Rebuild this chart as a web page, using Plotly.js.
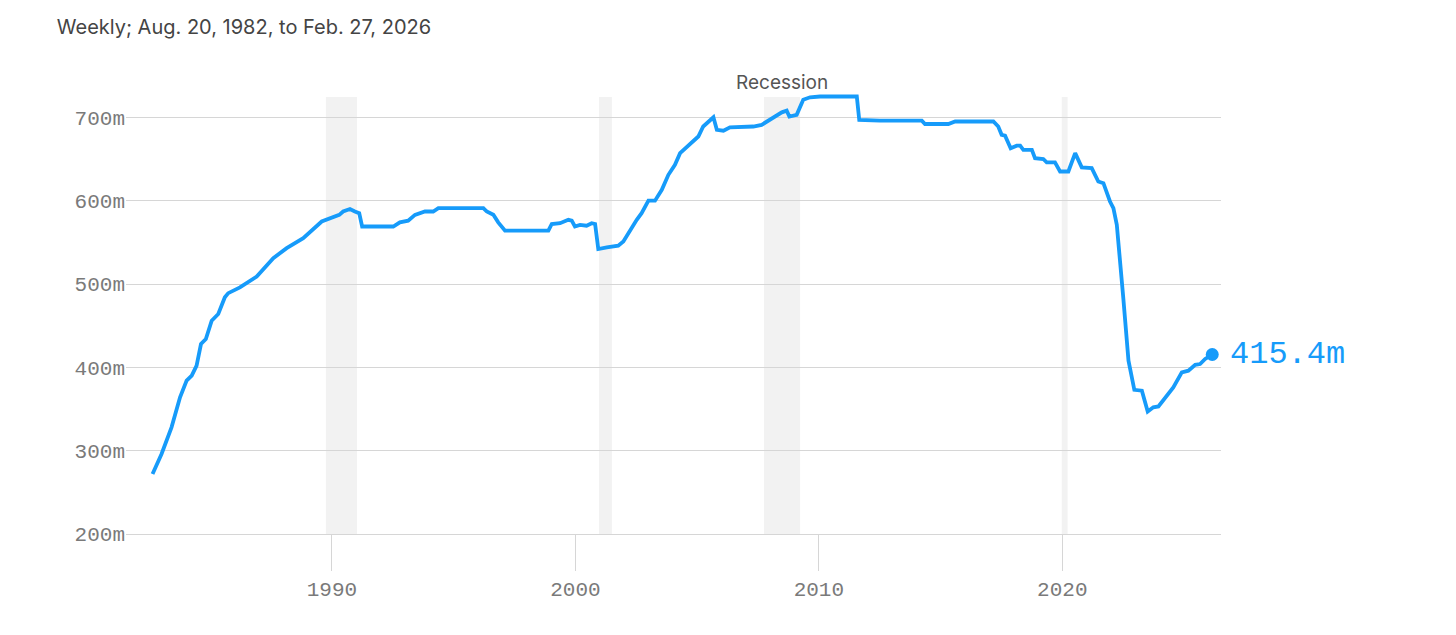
<!DOCTYPE html>
<html>
<head>
<meta charset="utf-8">
<script src="https://cdn.plot.ly/plotly-3.0.1.min.js"></script>
<style>
body{margin:0;background:#fff;}
#chart{width:1456px;height:635px;}
</style>
</head>
<body>
<div id="chart"></div>
<script>
// weekly values (decimal year, millions)
var years = [1982.63,1983.0,1983.41,1983.76,1984.03,1984.24,1984.44,1984.62,1984.82,1985.06,
  1985.33,1985.6,1985.74,1986.22,1986.91,1987.59,1988.14,1988.82,1989.58,1989.92,
  1990.3,1990.46,1990.74,1990.94,1991.12,1991.24,1992.52,1992.79,1993.13,1993.41,
  1993.82,1994.16,1994.37,1996.22,1996.36,1996.63,1996.83,1997.11,1998.89,1999.03,
  1999.37,1999.71,1999.85,1999.98,2000.19,2000.46,2000.67,2000.81,2000.94,2001.29,
  2001.76,2001.97,2002.17,2002.52,2002.72,2003.0,2003.27,2003.55,2003.82,2004.09,
  2004.3,2004.64,2004.84,2005.05,2005.25,2005.67,2005.81,2006.08,2006.35,2007.31,
  2007.65,2007.99,2008.48,2008.68,2008.79,2009.09,2009.36,2009.64,2010.05,2011.56,
  2011.66,2012.51,2012.65,2012.86,2013.06,2014.23,2014.36,2015.32,2015.6,2017.17,
  2017.37,2017.51,2017.65,2017.88,2018.13,2018.27,2018.4,2018.75,2018.88,2019.22,
  2019.36,2019.7,2019.91,2020.25,2020.53,2020.8,2021.21,2021.48,2021.69,2021.96,
  2022.1,2022.24,2022.51,2022.72,2022.96,2023.27,2023.51,2023.74,2023.95,2024.56,
  2024.91,2025.18,2025.46,2025.66,2025.87,2026.16];
var values = [272,296,328,364,384,390,402,428,434,456,
  464,484,489,496,509,531,543,555,575,579,
  583,587,590,587,585,569,569,574,576,583,
  587,587,591,591,587,583,574,564,564,572,
  573,577,576,569,571,570,573,572,542,544,
  546,551,561,577,585,600,600,613,631,643,
  657,666,671,677,689,700,685,684,688,689,
  691,697,706,708,701,703,721,724,725,725,
  697,696,696,695,696,696,692,692,695,695,
  689,679,678,663,666,666,661,661,651,650,
  646,646,635,635,657,640,639,623,621,599,
  591,571,482,408,373,372,347,352,353,376,
  394,396,403,404,410,415.4];

var recessionStart = [1989.75,2000.97,2007.75,2019.98];
var recessionEnd = [1991.03,2001.5,2009.23,2020.22];

var yTicks = [200,300,400,500,600,700];
var xTicks = [1990,2000,2010,2020];

var blue = '#169bfa';
var mono = 'Liberation Mono, DejaVu Sans Mono, monospace';

var shapes = [];
for(var i=0;i<recessionStart.length;i++){
    shapes.push({type:'rect',xref:'x',yref:'y',x0:recessionStart[i],x1:recessionEnd[i],
        y0:200,y1:724.5,fillcolor:'#f2f2f2',line:{width:0},layer:'below'});
}

var lastX = years[years.length-1];
var lastY = values[values.length-1];

var data = [
  {x:years,y:values,type:'scatter',mode:'lines',line:{color:blue,width:3.8},hoverinfo:'skip'},
  {x:[lastX],y:[lastY],type:'scatter',mode:'markers',marker:{color:blue,size:13},cliponaxis:false,hoverinfo:'skip'}
];

var layout = {
  width:1456,height:635,
  margin:{l:126,r:235,t:94,b:101},
  paper_bgcolor:'#fff',plot_bgcolor:'#fff',
  showlegend:false,
  title:{text:'Weekly; Aug. 20, 1982, to Feb. 27, 2026',x:0.039,xanchor:'left',y:0.957,yanchor:'middle',
    font:{family:'Inter, Noto Sans, sans-serif',size:20,color:'#444'}},
  xaxis:{range:[1981.54,2026.52],tickvals:xTicks,ticktext:xTicks.map(String),
    ticks:'outside',ticklen:36,tickcolor:'#d6d6d6',tickwidth:1,
    showgrid:false,zeroline:false,showline:true,linecolor:'#d6d6d6',linewidth:1,
    tickfont:{family:mono,size:21,color:'#7a7a7a'}},
  yaxis:{range:[200,728],tickvals:yTicks,ticktext:yTicks.map(function(v){return v+'m';}),
    showgrid:true,gridcolor:'#d6d6d6',gridwidth:1,zeroline:false,showline:false,
    ticks:'',tickfont:{family:mono,size:21,color:'#7a7a7a'}},
  shapes:shapes,
  annotations:[
    {x:(recessionStart[2]+recessionEnd[2])/2,y:1,xref:'x',yref:'paper',yanchor:'bottom',yshift:-2,
     text:'Recession',showarrow:false,font:{family:'Inter, Noto Sans, sans-serif',size:19,color:'#555'}},
    {x:lastX,y:lastY,xref:'x',yref:'y',xanchor:'left',yanchor:'middle',xshift:16,
     text:lastY.toFixed(1)+'m',showarrow:false,font:{family:mono,size:32,color:blue}}
  ]
};

Plotly.newPlot('chart',data,layout,{displayModeBar:false,staticPlot:true});
</script>
</body>
</html>
